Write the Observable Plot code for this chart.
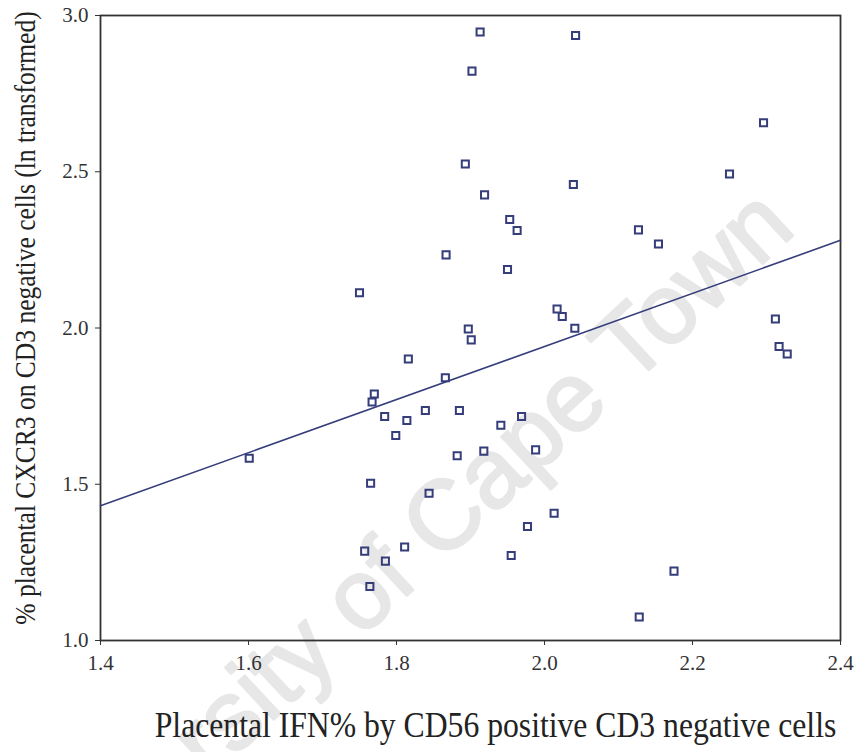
<!DOCTYPE html>
<html>
<head>
<meta charset="utf-8">
<script src="https://cdn.jsdelivr.net/npm/d3@7"></script>
<script src="https://cdn.jsdelivr.net/npm/@observablehq/plot@0.6"></script>
<style>
  html, body { margin: 0; padding: 0; background: #fff; }
</style>
</head>
<body>
<div id="chart"></div>
<script>
// Placental IFN% by CD56+ CD3- cells against placental CXCR3 on CD3- cells (ln transformed)
const ifnPercent = [1.913, 2.042, 1.902, 1.893, 2.039, 1.919, 1.953, 1.963, 1.867, 1.950,
                    1.750, 2.017, 2.024, 2.041, 1.897, 2.296, 2.250, 2.127, 2.154, 2.312,
                    2.317, 2.328, 2.175, 2.128, 1.901, 1.816, 1.866, 1.770, 1.767, 1.784,
                    1.839, 1.814, 1.885, 1.799, 1.941, 1.969, 1.882, 1.918, 1.988, 1.765,
                    1.844, 2.013, 1.977, 1.757, 1.811, 1.785, 1.955, 1.764, 1.601];
const cxcr3Ln    = [2.947, 2.936, 2.822, 2.525, 2.459, 2.426, 2.347, 2.312, 2.234, 2.187,
                    2.113, 2.061, 2.037, 1.999, 1.997, 2.657, 2.493, 2.314, 2.269, 2.029,
                    1.941, 1.917, 1.222, 1.075, 1.962, 1.901, 1.841, 1.789, 1.763, 1.717,
                    1.736, 1.704, 1.736, 1.656, 1.689, 1.717, 1.591, 1.606, 1.610, 1.503,
                    1.471, 1.407, 1.365, 1.286, 1.299, 1.254, 1.272, 1.173, 1.583];
const xTicks = [1.4, 1.6, 1.8, 2.0, 2.2, 2.4];
const yTicks = [1.0, 1.5, 2.0, 2.5, 3.0];
const xTitle = "Placental IFN% by CD56 positive CD3 negative cells";
const yTitle = "% placental CXCR3 on CD3 negative cells (ln transformed)";
const watermark = "University of Cape Town";

const points = ifnPercent.map((x, i) => ({x, y: cxcr3Ln[i]}));

// Ordinary least-squares fit, drawn across the whole x range
const mx = d3.mean(ifnPercent), my = d3.mean(cxcr3Ln);
const slope = d3.sum(points, d => (d.x - mx) * (d.y - my)) / d3.sum(points, d => (d.x - mx) ** 2);
const intercept = my - slope * mx;
const xDomain = d3.extent(xTicks);
const fit = xDomain.map(x => ({x, y: intercept + slope * x}));

const ink = "#333";
const navy = "#353d7a";
const paper = "#e7e7e7";
const fmt = d3.format(".1f");

const chart = Plot.plot({
  width: 856,
  height: 752,
  marginLeft: 100,
  marginRight: 16,
  marginTop: 15,
  marginBottom: 112,
  style: {fontFamily: "'Liberation Serif', 'Times New Roman', serif", fontSize: "21px", color: ink, background: "#fff"},
  x: {domain: xDomain},
  y: {domain: d3.extent(yTicks)},
  marks: [
    Plot.text([watermark], {text: d => d, frameAnchor: "middle", dx: -80, dy: 240, rotate: -43,
      fontSize: 98, fontFamily: "'Liberation Sans', Arial, sans-serif",
      fill: paper, stroke: paper, strokeWidth: 2.5, lineAnchor: "middle"}),
    Plot.frame({stroke: ink, strokeWidth: 1.8}),
    Plot.axisX({ticks: xTicks, tickFormat: fmt, tickSize: 5, tickPadding: 10, label: null}),
    Plot.axisY({ticks: yTicks, tickFormat: fmt, tickSize: 5, tickPadding: 7, label: null}),
    Plot.line(fit, {x: "x", y: "y", stroke: navy, strokeWidth: 1.6}),
    Plot.dot(points, {x: "x", y: "y", symbol: "square", r: 4, stroke: navy, strokeWidth: 2, fill: "none"}),
    Plot.text([xTitle], {text: d => d, frameAnchor: "bottom", dx: 25, dy: 85, fontSize: 36,
      textAnchor: "middle", lineAnchor: "middle", fill: "#222"}),
    Plot.text([yTitle], {text: d => d, frameAnchor: "left", dx: -75, dy: -10, rotate: -90, fontSize: 29,
      textAnchor: "middle", lineAnchor: "middle", fill: "#222"})
  ]
});

document.getElementById("chart").append(chart);

// The axis titles are set in a slightly condensed serif: squeeze each along its own direction
for (const node of chart.querySelectorAll("text")) {
  if (node.textContent !== xTitle && node.textContent !== yTitle) continue;
  const t = node.getAttribute("transform") || "";
  node.setAttribute("transform", `${t} scale(0.88 1)`);
}
</script>
</body>
</html>
